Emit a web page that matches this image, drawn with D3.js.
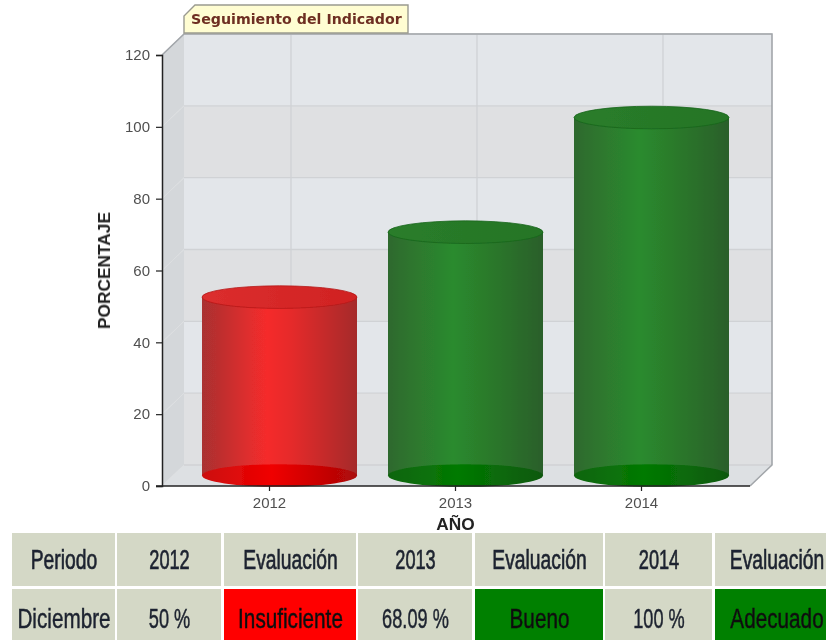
<!DOCTYPE html>
<html>
<head>
<meta charset="utf-8">
<script src="https://cdn.jsdelivr.net/npm/d3@7"></script>
<style>
  html, body { margin: 0; padding: 0; background: #fff; overflow: hidden; }
  svg { display: block; font-family: "Liberation Sans", Arial, sans-serif; }
</style>
</head>
<body>
<div id="appContainer"></div>
<script>
// chart values
const years = ["2012", "2013", "2014"];
const values = [50, 68.09, 100];
const evaluations = ["Insuficiente", "Bueno", "Adecuado"];
const yTicks = [0, 20, 40, 60, 80, 100, 120];

// table text
const headerRow = ["Periodo", "2012", "Evaluación", "2013", "Evaluación", "2014", "Evaluación"];
const dataRow = ["Diciembre", "50 %", "Insuficiente", "68.09 %", "Bueno", "100 %", "Adecuado"];

const w = 826;
const h = 640;
const depthX = 22;
const depthY = 21;
const left = 162;
const right = 750;
const bottom = 486;
const top120 = 55;
const barWidth = 155;
const ry = 11.3;

const svg = d3.select("#appContainer").append("svg").attr("width", w).attr("height", h);
const defs = svg.append("defs");

const yScale = d3.scaleLinear().domain([0, 120]).range([bottom, top120]);
const xScale = d3.scalePoint().domain(years).range([269, 641]);

function gradient(id, stops) {
  const g = defs.append("linearGradient").attr("id", id);
  stops.forEach(s => g.append("stop").attr("offset", s[0]).attr("stop-color", s[1]));
}
gradient("redBody", [[0, "#a93030"], [0.42, "#f52c2c"], [0.58, "#e52c2c"], [1, "#a52c2c"]]);
gradient("greenBody", [[0, "#2f692f"], [0.42, "#2b8b2e"], [0.58, "#2a7f2c"], [1, "#2a5f2a"]]);
gradient("redBase", [[0, "#cc1010"], [0.45, "#f00000"], [1, "#aa0808"]]);
gradient("greenBase", [[0, "#11650f"], [0.45, "#037a03"], [1, "#0d580d"]]);
gradient("redTop", [[0, "#dc2e2e"], [1, "#d02222"]]);
gradient("greenTop", [[0, "#2a7d2a"], [1, "#257526"]]);

defs.append("filter").attr("id", "soft")
  .append("feGaussianBlur").attr("stdDeviation", 0.45);

const plot = svg.append("g").attr("filter", "url(#soft)");

// walls: bands between every pair of ticks
const bands = d3.pairs(yTicks);

plot.selectAll(".wall-left")
  .data(bands)
  .enter()
  .append("polygon")
  .attr("class", "wall-left")
  .attr("fill", "#d4d7da")
  .attr("points", d => [
    [left, yScale(d[0])],
    [left + depthX, yScale(d[0]) - depthY],
    [left + depthX, yScale(d[1]) - depthY],
    [left, yScale(d[1])]
  ].join(" "));

plot.selectAll(".wall-back")
  .data(bands)
  .enter()
  .append("rect")
  .attr("class", "wall-back")
  .attr("x", left + depthX)
  .attr("width", right - left)
  .attr("y", d => yScale(d[1]) - depthY)
  .attr("height", d => yScale(d[0]) - yScale(d[1]))
  .attr("fill", (d, i) => i % 2 == 0 ? "#dfe0e2" : "#e3e6ea");

// floor
plot.append("polygon")
  .attr("fill", "#dde0e3")
  .attr("points", [
    [left, bottom],
    [left + depthX, bottom - depthY],
    [right + depthX, bottom - depthY],
    [right, bottom]
  ].join(" "));

// grid
plot.selectAll(".grid-h")
  .data(yTicks)
  .enter()
  .append("line")
  .attr("class", "grid-h")
  .attr("x1", left + depthX)
  .attr("x2", right + depthX)
  .attr("y1", d => yScale(d) - depthY)
  .attr("y2", d => yScale(d) - depthY)
  .attr("stroke", "#d0d2d5")
  .attr("stroke-width", 1.3);

plot.selectAll(".grid-side")
  .data(yTicks)
  .enter()
  .append("line")
  .attr("class", "grid-side")
  .attr("x1", left)
  .attr("x2", left + depthX)
  .attr("y1", d => yScale(d))
  .attr("y2", d => yScale(d) - depthY)
  .attr("stroke", "#dcdee0")
  .attr("stroke-width", 1);

plot.selectAll(".grid-v")
  .data(years)
  .enter()
  .append("line")
  .attr("class", "grid-v")
  .attr("x1", d => xScale(d) + depthX)
  .attr("x2", d => xScale(d) + depthX)
  .attr("y1", yScale(120) - depthY)
  .attr("y2", bottom - depthY)
  .attr("stroke", "#d0d2d5")
  .attr("stroke-width", 1.3);

// top and right edge of the back wall, and the floor corner
plot.append("path")
  .attr("fill", "none")
  .attr("stroke", "#a2a6aa")
  .attr("stroke-width", 1.6)
  .attr("d", d3.line()([
    [left, top120],
    [left + depthX, top120 - depthY],
    [right + depthX, top120 - depthY],
    [right + depthX, bottom - depthY],
    [right, bottom]
  ]));

// cylinders
const cylinders = plot.selectAll(".cyl")
  .data(years.map((y, i) => ({ year: y, value: values[i], bad: evaluations[i] == "Insuficiente" })))
  .enter()
  .append("g")
  .attr("class", "cyl");

const cx = d => xScale(d.year) + depthX / 2 - 0.5;
const baseY = bottom - depthY / 2;
const topY = d => yScale(d.value) - 9.3;

cylinders.append("path")
  .attr("fill", d => d.bad ? "url(#redBody)" : "url(#greenBody)")
  .attr("d", d => {
    const x0 = cx(d) - barWidth / 2;
    const x1 = cx(d) + barWidth / 2;
    return `M${x0},${topY(d)} L${x0},${baseY} L${x1},${baseY} L${x1},${topY(d)} Z`;
  });

cylinders.append("ellipse")
  .attr("cx", cx)
  .attr("cy", baseY)
  .attr("rx", barWidth / 2)
  .attr("ry", ry)
  .attr("fill", d => d.bad ? "url(#redBase)" : "url(#greenBase)");

cylinders.append("ellipse")
  .attr("cx", cx)
  .attr("cy", topY)
  .attr("rx", barWidth / 2)
  .attr("ry", ry)
  .attr("fill", d => d.bad ? "url(#redTop)" : "url(#greenTop)")
  .attr("stroke", d => d.bad ? "#b51818" : "#17651a")
  .attr("stroke-width", 0.8);

// axes
const yAxis = d3.axisLeft(yScale).tickValues(yTicks).tickSize(6).tickPadding(6);
const xAxis = d3.axisBottom(xScale).tickSize(5).tickPadding(6);

const yG = plot.append("g").attr("transform", "translate(" + left + ",0)").call(yAxis);
const xG = plot.append("g").attr("transform", "translate(0," + bottom + ")").call(xAxis);

xG.select(".domain").attr("d", "M" + (left - 6) + ",0H" + right);

[yG, xG].forEach(a => {
  a.select(".domain").attr("stroke", "#222").attr("stroke-width", 1.5);
  a.selectAll(".tick line").attr("stroke", "#222").attr("stroke-width", 1.2);
  a.selectAll(".tick text")
    .attr("fill", "#505050")
    .style("font-size", "15px")
    .style("font-family", '"Liberation Sans", Arial, sans-serif');
});

plot.append("text")
  .attr("transform", "translate(110,270.5) rotate(-90)")
  .attr("text-anchor", "middle")
  .attr("font-size", 17.3)
  .attr("font-weight", "bold")
  .attr("fill", "#222")
  .text("PORCENTAJE");

plot.append("text")
  .attr("x", 455.5)
  .attr("y", 530)
  .attr("text-anchor", "middle")
  .attr("font-size", 17.3)
  .attr("font-weight", "bold")
  .attr("fill", "#222")
  .text("AÑO");

// title tab
plot.append("polygon")
  .attr("fill", "#fffdd2")
  .attr("stroke", "#9a9a90")
  .attr("stroke-width", 1.4)
  .attr("points", "184,33 184,16 195,5 408,5 408,33");

plot.append("text")
  .attr("x", 191)
  .attr("y", 24)
  .attr("font-family", '"DejaVu Sans", Verdana, sans-serif')
  .attr("font-size", 14.2)
  .attr("font-weight", "bold")
  .attr("fill", "#6e2f22")
  .text("Seguimiento del Indicador");

// table under the chart
const colEdges = [[12, 115], [117, 221], [224, 356], [358, 472], [475, 603], [605, 712], [715, 826]];
const rowEdges = [[533, 586], [589, 640]];
const rows = [headerRow, dataRow];

function cellFill(r, c) {
  if (r == 1 && c == 2) return "#ff0000";
  if (r == 1 && (c == 4 || c == 6)) return "#008000";
  return "#d4d8c6";
}

function textScale(d) {
  if (/^\d/.test(d.t)) return 0.65;
  return d.r == 0 ? 0.69 : 0.74;
}

const table = svg.append("g").attr("filter", "url(#soft)");

const cells = table.selectAll(".row")
  .data(rows)
  .enter()
  .append("g")
  .attr("class", "row")
  .selectAll(".cell")
  .data((row, r) => row.map((t, c) => ({ t: t, r: r, c: c })))
  .enter()
  .append("g")
  .attr("class", "cell");

cells.append("rect")
  .attr("x", d => colEdges[d.c][0])
  .attr("y", d => rowEdges[d.r][0])
  .attr("width", d => colEdges[d.c][1] - colEdges[d.c][0])
  .attr("height", d => rowEdges[d.r][1] - rowEdges[d.r][0])
  .attr("fill", d => cellFill(d.r, d.c));

cells.append("text")
  .attr("transform", d => {
    const mid = (colEdges[d.c][0] + colEdges[d.c][1]) / 2 + (d.c == 6 ? 6.5 : 0.5);
    const base = d.r == 0 ? 569 : 628;
    return "translate(" + mid + "," + base + ") scale(" + textScale(d) + ",1)";
  })
  .attr("text-anchor", "middle")
  .attr("font-size", 28)
  .attr("fill", d => d.r == 1 && (d.c == 2 || d.c == 4 || d.c == 6) ? "#101010" : "#1e2430")
  .attr("stroke", d => d.r == 1 && (d.c == 2 || d.c == 4 || d.c == 6) ? "#101010" : "#1e2430")
  .attr("stroke-width", d => d.r == 0 ? 0.7 : 0.5)
  .text(d => d.t);
</script>
</body>
</html>
